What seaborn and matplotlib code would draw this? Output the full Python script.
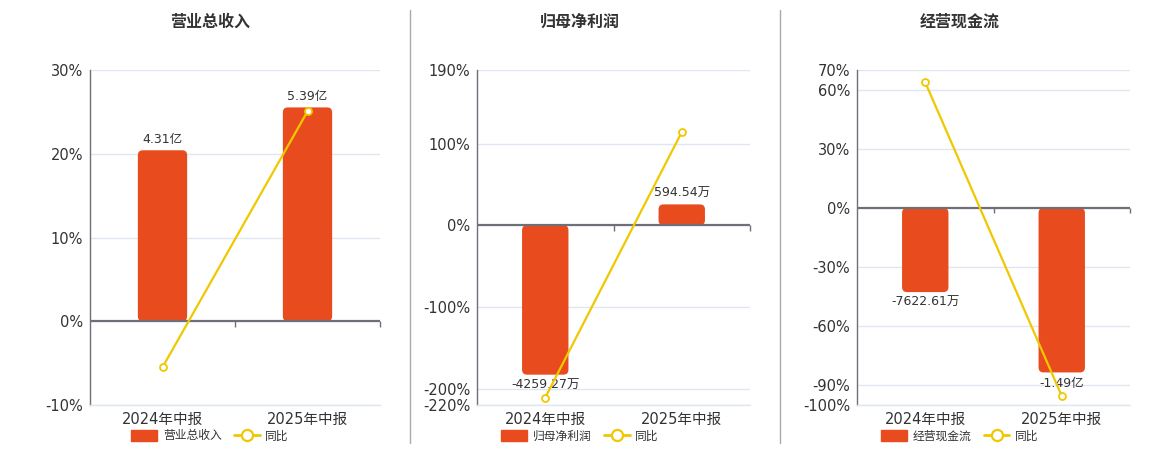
import matplotlib
matplotlib.use("Agg")
import matplotlib.pyplot as plt
import seaborn as sns
from matplotlib.lines import Line2D
from matplotlib.patches import Patch, FancyBboxPatch

# --- data ---
periods = ['2024年中报', '2025年中报']

revenue = [4.31, 5.39]              # 亿
revenue_labels = ['4.31亿', '5.39亿']
revenue_yoy = [-5.5, 25.06]         # %

net_profit = [-4259.27, 594.54]     # 万
net_profit_labels = ['-4259.27万', '594.54万']
net_profit_yoy = [-211.0, 113.96]

cashflow = [-7622.61, -14900.0]     # 万
cashflow_labels = ['-7622.61万', '-1.49亿']
cashflow_yoy = [63.7, -95.4]

titles = ['营业总收入', '归母净利润', '经营现金流']
pct_ticks = [
    [-10, 0, 10, 20, 30],
    [-220, -200, -100, 0, 100, 190],
    [-100, -90, -60, -30, 0, 30, 60, 70],
]

BAR_COLOR = '#E84C1E'
LINE_COLOR = '#F0C800'
TEXT_COLOR = '#333333'
AXIS_COLOR = '#6E7079'
GRID_COLOR = '#E0E6F1'

sns.set_style("white")
plt.rcParams['font.family'] = ['DejaVu Sans', 'Noto Sans CJK SC']

W, H = 1160, 450
fig = plt.figure(figsize=(W / 100, H / 100), dpi=100)

# panel layout in pixels: (left, right), title/legend center, bar-axis scale
panels = [
    dict(x=(90, 380), center=210, scale=0.2111,
         bars=revenue, labels=revenue_labels, yoy=revenue_yoy),
    dict(x=(477, 750), center=580, scale=23.29,
         bars=net_profit, labels=net_profit_labels, yoy=net_profit_yoy),
    dict(x=(857, 1130), center=960, scale=178.5,
         bars=cashflow, labels=cashflow_labels, yoy=cashflow_yoy),
]
top_px, bottom_px = 70, 405
RADIUS_PX = 5


def round_bars(bar_ax, x_per_px, y_per_px):
    # swap seaborn's square bars for rounded ones of the same size
    for rect in list(bar_ax.patches):
        x, y = rect.get_x(), rect.get_y()
        w, h = rect.get_width(), rect.get_height()
        rounded = FancyBboxPatch(
            (x, min(y, y + h)), w, abs(h),
            boxstyle=f"round,pad=0,rounding_size={RADIUS_PX * x_per_px}",
            mutation_aspect=y_per_px / x_per_px,
            facecolor=rect.get_facecolor(), edgecolor='none', zorder=rect.get_zorder())
        rect.set_visible(False)
        bar_ax.add_patch(rounded)


for i, p in enumerate(panels):
    left = p['x'][0] / W
    width = (p['x'][1] - p['x'][0]) / W
    bottom = 1 - bottom_px / H
    height = (bottom_px - top_px) / H
    ticks = pct_ticks[i]
    lo, hi = ticks[0], ticks[-1]

    # base axis: percent scale, grid, tick labels
    ax = fig.add_axes([left, bottom, width, height])
    # bars on a hidden twin axis
    bar_ax = ax.twinx()
    # line on a third axis sharing the percent scale
    line_ax = ax.twinx()
    line_ax.sharey(ax)

    sns.barplot(x=periods, y=p['bars'], ax=bar_ax, color=BAR_COLOR,
                width=0.34, saturation=1)
    bar_ax.set_ylim(lo * p['scale'], hi * p['scale'])
    bar_ax.bar_label(bar_ax.containers[0], labels=p['labels'], padding=3,
                     fontsize=9, color=TEXT_COLOR)
    round_bars(bar_ax, 2.0 / (p['x'][1] - p['x'][0]),
               (hi - lo) * p['scale'] / (bottom_px - top_px))

    sns.lineplot(x=periods, y=p['yoy'], ax=line_ax, sort=False, color=LINE_COLOR,
                 linewidth=1.6, marker='o', markersize=5, markerfacecolor='white',
                 markeredgecolor=LINE_COLOR, markeredgewidth=1.3, zorder=3)

    for a in (bar_ax, line_ax):
        a.set_xlim(-0.5, 1.5)
        a.set_ylabel('')
        a.set_xlabel('')
        a.tick_params(left=False, right=False, labelleft=False, labelright=False,
                      bottom=False, labelbottom=False)
        for s in a.spines.values():
            s.set_visible(False)

    ax.set_ylim(lo, hi)
    ax.set_xlim(-0.5, 1.5)
    ax.set_yticks(ticks)
    ax.set_yticklabels([f'{t}%' for t in ticks], fontsize=10.5, color=TEXT_COLOR)
    ax.set_xticks([0, 1])
    ax.set_xticklabels(periods, fontsize=10.5, color=TEXT_COLOR)
    ax.tick_params(axis='both', length=0, pad=5)
    ax.yaxis.grid(True, color=GRID_COLOR, linewidth=1)
    for side in ['top', 'right']:
        ax.spines[side].set_visible(False)
    ax.spines['bottom'].set_color(GRID_COLOR)
    ax.spines['bottom'].set_linewidth(1)
    ax.spines['left'].set_color(AXIS_COLOR)
    ax.spines['left'].set_linewidth(1)
    ax.set_ylabel('')
    ax.set_xlabel('')

    # zero line with category boundary ticks
    line_ax.axhline(0, color=AXIS_COLOR, linewidth=1.6, zorder=2)
    tick_len = (hi - lo) * 0.016
    line_ax.vlines([0.5, 1.5], -tick_len, 0, color=AXIS_COLOR, linewidth=1,
                   zorder=2, clip_on=False)

    # title
    fig.text(p['center'] / W, 1 - 22 / H, titles[i], ha='center', va='center',
             fontsize=11.5, fontweight='bold', color=TEXT_COLOR)

    # legend
    handles = [
        Patch(facecolor=BAR_COLOR, edgecolor=BAR_COLOR),
        Line2D([0], [0], color=LINE_COLOR, linewidth=2, marker='o', markersize=8,
               markerfacecolor='white', markeredgecolor=LINE_COLOR, markeredgewidth=1.6),
    ]
    line_ax.legend(handles, [titles[i], '同比'], loc='center', ncol=2, frameon=False,
                   bbox_to_anchor=(p['center'] / W, 1 - 436 / H),
                   bbox_transform=fig.transFigure, fontsize=8.5,
                   handlelength=2.2, handleheight=1.1, handletextpad=0.5,
                   columnspacing=1.0, labelcolor=TEXT_COLOR)

# panel separators
for xs in (410, 780):
    fig.add_artist(Line2D([xs / W, xs / W], [1 - 443 / H, 1 - 10 / H],
                          color='#AAAAAA', linewidth=1, transform=fig.transFigure))

fig.savefig('out.png', dpi=100)
